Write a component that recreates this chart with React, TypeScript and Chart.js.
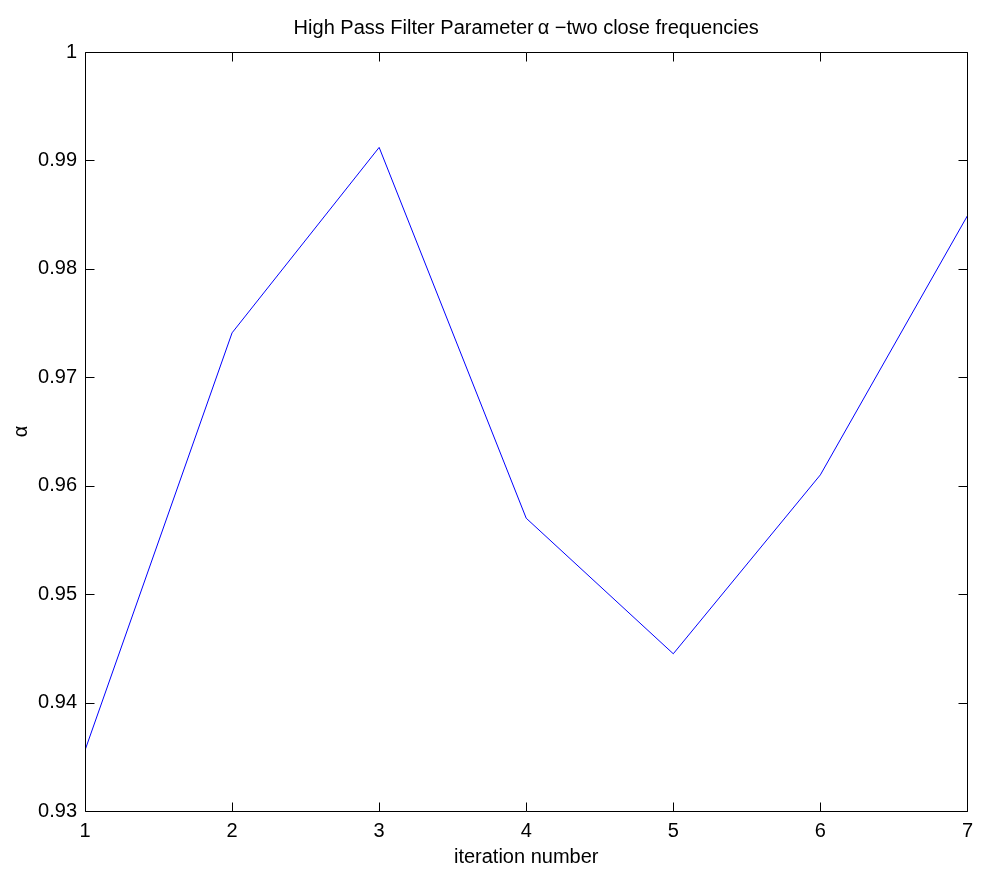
import React, { useEffect, useRef } from "react";
import { Chart, registerables } from "chart.js";

Chart.register(...registerables);

const iterations = [1, 2, 3, 4, 5, 6, 7];
const alphaValues = [0.9356, 0.9741, 0.9912, 0.957, 0.9445, 0.961, 0.9849];
const xTicks = [1, 2, 3, 4, 5, 6, 7];
const yTicks = [0.93, 0.94, 0.95, 0.96, 0.97, 0.98, 0.99, 1];
const titleText = "High Pass Filter Parameter\u2009\u03b1 \u2212two close frequencies";
const xTitle = "iteration number";
const yTitle = "\u03b1";

const FONT = "'Liberation Sans', Arial, Helvetica, sans-serif";

export default function App() {
  const ref = useRef<HTMLCanvasElement | null>(null);

  useEffect(() => {
    document.body.style.margin = "0";
    const canvas = ref.current!;
    const framePlugin = {
      id: "frame",
      afterDraw(chart: any) {
        const { ctx, chartArea } = chart;
        const { left, right, top, bottom } = chartArea;
        const xs = chart.scales.x;
        const ys = chart.scales.y;
        ctx.save();
        ctx.strokeStyle = "#000";
        ctx.lineWidth = 1;
        const L = Math.round(left) + 0.5;
        const R = Math.round(right) + 0.5;
        const T = Math.round(top) + 0.5;
        const B = Math.round(bottom) + 0.5;
        ctx.beginPath();
        ctx.rect(L, T, R - L, B - T);
        ctx.stroke();
        const tl = 9;
        ctx.beginPath();
        xTicks.forEach((v) => {
          const px = Math.round(xs.getPixelForValue(v)) + 0.5;
          ctx.moveTo(px, B);
          ctx.lineTo(px, B - tl);
          ctx.moveTo(px, T);
          ctx.lineTo(px, T + tl);
        });
        yTicks.forEach((v) => {
          const py = Math.round(ys.getPixelForValue(v)) + 0.5;
          ctx.moveTo(L, py);
          ctx.lineTo(L + tl, py);
          ctx.moveTo(R, py);
          ctx.lineTo(R - tl, py);
        });
        ctx.stroke();

        ctx.fillStyle = "#000";
        ctx.font = `20px ${FONT}`;
        ctx.textAlign = "center";
        ctx.textBaseline = "middle";
        ctx.fillText(titleText, (left + right) / 2, 28);
        ctx.fillText(xTitle, (left + right) / 2, 857);
        ctx.save();
        ctx.translate(21, (top + bottom) / 2);
        ctx.rotate(-Math.PI / 2);
        ctx.fillText(yTitle, 0, 0);
        ctx.restore();
        ctx.restore();
      },
    };

    const chart = new Chart(canvas, {
      type: "line",
      data: {
        datasets: [
          {
            data: iterations.map((x, i) => ({ x, y: alphaValues[i] })),
            borderColor: "#0000ff",
            borderWidth: 1,
            pointRadius: 0,
            fill: false,
            tension: 0,
          },
        ],
      },
      options: {
        animation: false,
        responsive: false,
        devicePixelRatio: 1,
        layout: { padding: { left: 35, top: 52, right: 13, bottom: 21 } },
        plugins: { legend: { display: false }, tooltip: { enabled: false } },
        scales: {
          x: {
            type: "linear",
            min: 1,
            max: 7,
            afterBuildTicks: (s: any) => {
              s.ticks = xTicks.map((v) => ({ value: v }));
            },
            afterFit: (s: any) => {
              s.height = 40;
            },
            grid: { display: false, drawTicks: false },
            border: { display: false },
            ticks: {
              padding: 8,
              color: "#000",
              font: { family: FONT, size: 20 },
              maxRotation: 0,
              autoSkip: false,
              callback: (v: any) => String(v),
            },
          },
          y: {
            type: "linear",
            min: 0.93,
            max: 1,
            afterBuildTicks: (s: any) => {
              s.ticks = yTicks.map((v) => ({ value: v }));
            },
            afterFit: (s: any) => {
              s.width = 50;
            },
            grid: { display: false, drawTicks: false },
            border: { display: false },
            ticks: {
              padding: 8,
              color: "#000",
              font: { family: FONT, size: 20 },
              autoSkip: false,
              callback: (v: any) => String(Number(Number(v).toFixed(2))),
            },
          },
        },
      },
      plugins: [framePlugin],
    });
    return () => chart.destroy();
  }, []);

  return (
    <div style={{ position: "absolute", left: 0, top: 0, width: 981, height: 872 }}>
      <canvas ref={ref} width={981} height={872} style={{ width: 981, height: 872, display: "block" }} />
    </div>
  );
}
